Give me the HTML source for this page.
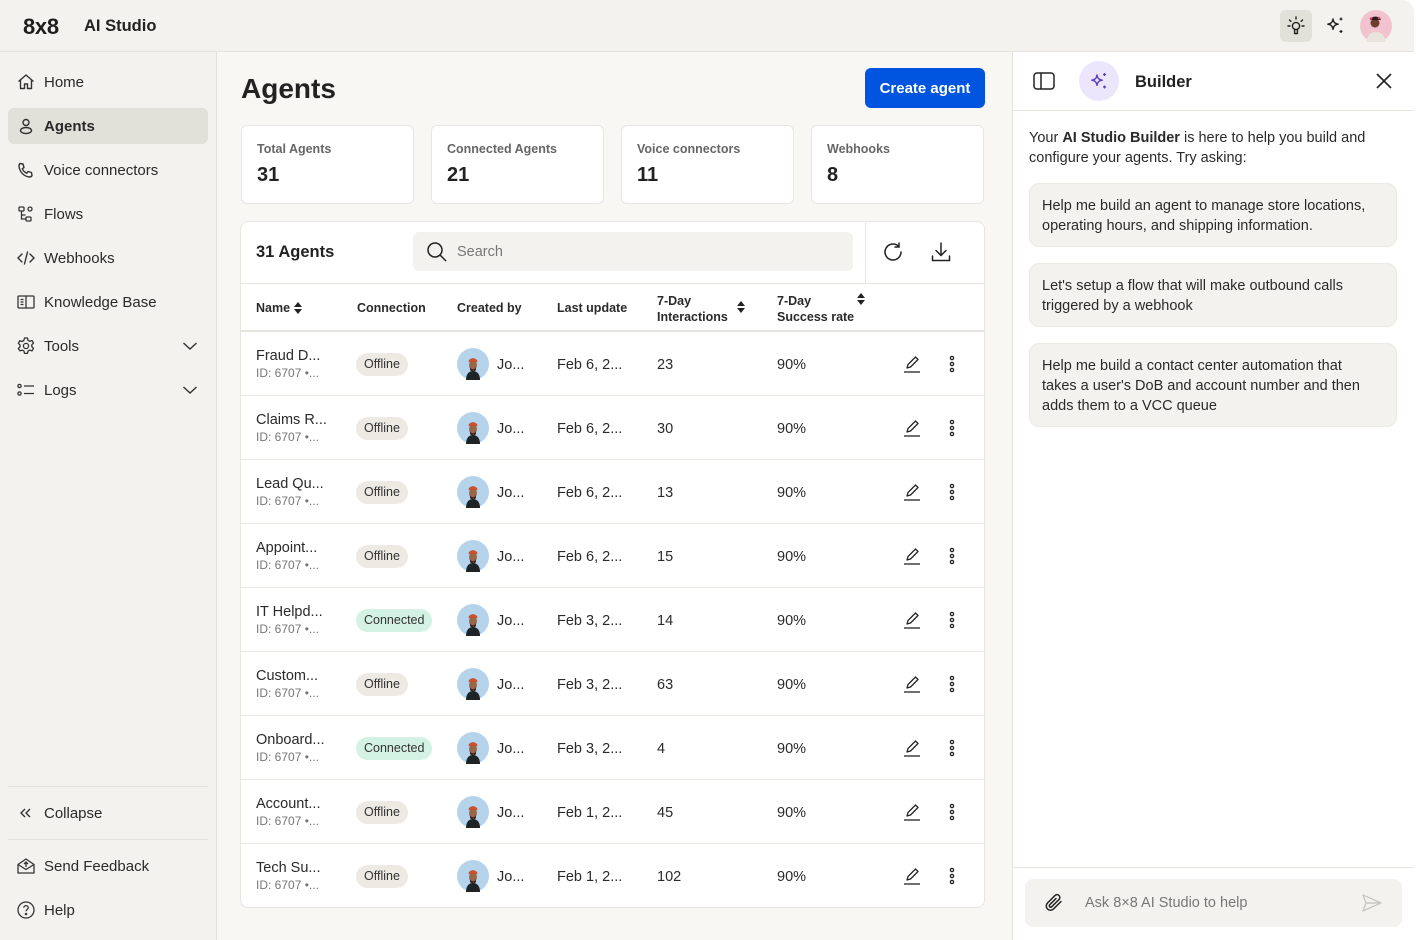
<!DOCTYPE html>
<html><head><meta charset="utf-8">
<style>
*{box-sizing:border-box;margin:0;padding:0}
body{width:1416px;height:940px;background:#fff;font-family:"Liberation Sans",Arial,sans-serif;color:#222;overflow:hidden;position:relative}
.app{position:absolute;left:0;top:0;width:1414px;height:940px;background:#f3f2ee;border-radius:0 12px 12px 0;overflow:hidden}
.abs{position:absolute}
.top{position:absolute;left:0;top:0;width:1414px;height:52px;border-bottom:1px solid #e4e2dc}
.side{position:absolute;left:0;top:52px;width:217px;height:888px;border-right:1px solid #e4e2dc}
.nav{position:absolute;left:8px;width:200px;height:36px;border-radius:6px;font-size:15px;color:#2a2a2a}
.nav .ic{position:absolute;left:8px;top:8px;width:20px;height:20px}
.nav .t{position:absolute;left:36px;top:1px;line-height:36px}
.nav.act{background:#e1e0d9;font-weight:600}
.main{position:absolute;left:217px;top:52px;width:795px;height:888px;background:#f8f7f4}
.card{position:absolute;top:73px;width:173px;height:79px;background:#fff;border:1px solid #e8e6e0;border-radius:6px}
.card .l{position:absolute;left:15px;top:16px;font-size:12.5px;color:#666;font-weight:600}
.card .v{position:absolute;left:15px;top:38px;font-size:20px;font-weight:700;color:#222}
.tbl{position:absolute;left:23px;top:169px;width:745px;height:687px;background:#fff;border:1px solid #e8e6e0;border-radius:8px;overflow:hidden}
.hd{position:absolute;top:61px;left:0;width:745px;height:49px;border-top:1px solid #e8e6e0;border-bottom:2px solid #e6e4dc;font-size:12.5px;font-weight:600;color:#2a2a2a}
.hd span{position:absolute}
.row{position:absolute;left:0;width:745px;height:64px;border-bottom:1px solid #ebe9e3;font-size:14.5px;color:#2a2a2a}
.row .n{position:absolute;left:15px;top:15px;line-height:18px}
.row .id{position:absolute;left:15px;top:33px;font-size:12px;color:#777;line-height:16px}
.badge{position:absolute;left:115px;top:21px;height:23px;line-height:23px;padding:0 8px;border-radius:12px;font-size:12.5px;color:#333;background:#eceae3}
.badge.c{background:#d4f2e3}
.av{position:absolute;left:216px;top:16px;width:32px;height:32px}
.row .by{position:absolute;left:256px;top:25px}
.row .dt{position:absolute;left:316px;top:25px}
.row .it{position:absolute;left:416px;top:25px}
.row .sr{position:absolute;left:536px;top:25px}
.row .ed{position:absolute;left:661px;top:22px;width:20px;height:20px}
.row .mo{position:absolute;left:701px;top:22px;width:20px;height:20px}
.bp{position:absolute;left:1012px;top:52px;width:402px;height:888px;background:#fff;border-left:1px solid #e4e2dc}
.sug{position:absolute;left:16px;width:368px;background:#f3f2ee;border:1px solid #ebe9e3;border-radius:10px;padding:12px 22px 11px 12px;font-size:14.5px;line-height:20px;color:#2a2a2a}
</style></head><body>
<div class="app">
<div class="top">
  <div class="abs" style="left:23px;top:14px;font-size:22px;font-weight:700;letter-spacing:-0.3px;color:#1e1e1e">8x8</div>
  <div class="abs" style="left:84px;top:17px;font-size:16.5px;font-weight:600;color:#222">AI Studio</div>
  <div class="abs" style="left:1280px;top:10px;width:32px;height:32px;background:#e1e0d9;border-radius:6px">
    <svg width="32" height="32" viewBox="0 0 32 32" fill="none" stroke="#222" stroke-width="1.4" stroke-linecap="round"><path d="M16 7v2M9.5 10l1.4 1.4M22.5 10l-1.4 1.4M8 16h2M22 16h2"/><circle cx="16" cy="16" r="3.6"/><path d="M14.6 19.5v4h2.8v-4"/></svg>
  </div>
  <svg class="abs" style="left:1324px;top:15px" width="22" height="22" viewBox="0 0 22 22" fill="none" stroke="#222" stroke-width="1.4" stroke-linejoin="round"><path d="M9 4c.6 3.4 1.8 4.6 5.2 5.2-3.4.6-4.6 1.8-5.2 5.2-.6-3.4-1.8-4.6-5.2-5.2C7.2 8.6 8.4 7.4 9 4z"/><path d="M17 2.5v3M15.5 4h3M17 15v3M15.5 16.5h3" stroke-width="1.2"/></svg>
  <svg class="abs" style="left:1360px;top:10px" width="32" height="32" viewBox="0 0 32 32"><circle cx="16" cy="16" r="16" fill="#f2c3cf"/><path d="M6 32c1-7 5-10 10-10s9 3 10 10z" fill="#e9e4dc"/><circle cx="15" cy="13" r="4.5" fill="#6b3f2a"/><path d="M10 10c1-4 9-5 11 0" fill="#2a1a18"/><circle cx="11" cy="8.5" r="1.3" fill="#d4477a"/><circle cx="19" cy="8" r="1.3" fill="#d4477a"/></svg>
</div>

<div class="side">
  <div class="nav" style="top:12px"><svg class="ic" viewBox="0 0 20 20" fill="none" stroke="#333" stroke-width="1.4" stroke-linejoin="round"><path d="M2.5 9.5L10 3l7.5 6.5M4.5 8v8.5h4v-4.5h3v4.5h4V8"/></svg><span class="t">Home</span></div>
  <div class="nav act" style="top:56px"><svg class="ic" viewBox="0 0 20 20" fill="none" stroke="#333" stroke-width="1.4"><circle cx="10" cy="6.5" r="3"/><ellipse cx="10" cy="14.5" rx="5.5" ry="3"/></svg><span class="t">Agents</span></div>
  <div class="nav" style="top:100px"><svg class="ic" viewBox="0 0 20 20" fill="none" stroke="#333" stroke-width="1.4" stroke-linejoin="round"><path d="M4 3.5l3 .5 1 3.5-1.8 1.3c1 2 2.5 3.5 4.5 4.5L12 11.5l3.5 1 .5 3c-.5 1-1.5 1.5-2.5 1.5C8 16.5 3.5 12 3 6c0-1 .3-2 1-2.5z"/></svg><span class="t">Voice connectors</span></div>
  <div class="nav" style="top:144px"><svg class="ic" viewBox="0 0 20 20" fill="none" stroke="#333" stroke-width="1.3"><rect x="3" y="3" width="5" height="4" rx="1"/><circle cx="14" cy="5" r="2"/><path d="M5.5 7v8h4M5.5 11h4"/><rect x="10" y="13" width="5" height="4" rx="1"/></svg><span class="t">Flows</span></div>
  <div class="nav" style="top:188px"><svg class="ic" viewBox="0 0 20 20" fill="none" stroke="#333" stroke-width="1.4" stroke-linecap="round"><path d="M6 6l-4 4 4 4M14 6l4 4-4 4M11.5 4l-3 12"/></svg><span class="t">Webhooks</span></div>
  <div class="nav" style="top:232px"><svg class="ic" viewBox="0 0 20 20" fill="none" stroke="#333" stroke-width="1.3"><rect x="2" y="4" width="16" height="12" rx="1"/><path d="M10 4v12M4.5 7.5h3M4.5 10h3M4.5 12.5h3"/></svg><span class="t">Knowledge Base</span></div>
  <div class="nav" style="top:276px"><svg class="ic" viewBox="0 0 20 20" fill="none" stroke="#333" stroke-width="1.3" stroke-linejoin="round"><path d="M8.5 2h3l.5 2.3 1.8 1 2.2-.8 1.5 2.6-1.7 1.6v2l1.7 1.6-1.5 2.6-2.2-.8-1.8 1-.5 2.3h-3l-.5-2.3-1.8-1-2.2.8L2.3 12.5 4 10.9v-2L2.3 7.3 3.8 4.7l2.2.8 1.8-1z"/><circle cx="10" cy="10" r="2.6"/></svg><span class="t">Tools</span>
    <svg class="abs" style="left:174px;top:12px" width="16" height="12" viewBox="0 0 16 12" fill="none" stroke="#333" stroke-width="1.4"><path d="M1.5 3l6.5 6 6.5-6"/></svg></div>
  <div class="nav" style="top:320px"><svg class="ic" viewBox="0 0 20 20" fill="none" stroke="#333" stroke-width="1.3"><circle cx="3.5" cy="6" r="1.6"/><circle cx="3.5" cy="13.5" r="1.6"/><path d="M8 6h10M8 13.5h10"/></svg><span class="t">Logs</span>
    <svg class="abs" style="left:174px;top:12px" width="16" height="12" viewBox="0 0 16 12" fill="none" stroke="#333" stroke-width="1.4"><path d="M1.5 3l6.5 6 6.5-6"/></svg></div>
  <div class="abs" style="left:8px;top:734px;width:200px;height:1px;background:#e4e2dc"></div>
  <div class="nav" style="top:743px"><svg class="ic" viewBox="0 0 20 20" fill="none" stroke="#333" stroke-width="1.4"><path d="M9 6l-4 4 4 4M14 6l-4 4 4 4"/></svg><span class="t">Collapse</span></div>
  <div class="abs" style="left:8px;top:787px;width:200px;height:1px;background:#e4e2dc"></div>
  <div class="nav" style="top:796px"><svg class="ic" viewBox="0 0 20 20" fill="none" stroke="#333" stroke-width="1.3" stroke-linejoin="round"><path d="M2 8.5L10 3l8 5.5V17H2z"/><path d="M2 8.5l8 5 8-5"/><path d="M10 11V6M8 8l2-2 2 2"/></svg><span class="t">Send Feedback</span></div>
  <div class="nav" style="top:840px"><svg class="ic" viewBox="0 0 20 20" fill="none" stroke="#333" stroke-width="1.3"><circle cx="10" cy="10" r="8"/><path d="M7.8 7.8c0-1.3 1-2.2 2.2-2.2s2.2.9 2.2 2.1c0 1.8-2.2 1.8-2.2 3.6"/><circle cx="10" cy="14" r=".6" fill="#333"/></svg><span class="t">Help</span></div>
</div>

<div class="main">
  <div class="abs" style="left:24px;top:21px;font-size:28px;font-weight:600;color:#222">Agents</div>
  <div class="abs" style="left:648px;top:16px;width:120px;height:40px;background:#0055e0;border-radius:6px;color:#fff;font-size:15px;font-weight:600;text-align:center;line-height:41px">Create agent</div>
  <div class="card" style="left:24px"><div class="l">Total Agents</div><div class="v">31</div></div>
  <div class="card" style="left:214px"><div class="l">Connected Agents</div><div class="v">21</div></div>
  <div class="card" style="left:404px"><div class="l">Voice connectors</div><div class="v">11</div></div>
  <div class="card" style="left:594px"><div class="l">Webhooks</div><div class="v">8</div></div>

  <div class="tbl">
    <div class="abs" style="left:15px;top:21px;font-size:16.5px;font-weight:600;color:#222">31 Agents</div>
    <div class="abs" style="left:172px;top:10px;width:440px;height:39px;background:#f3f2ee;border-radius:6px">
      <svg class="abs" style="left:12px;top:8px" width="24" height="24" viewBox="0 0 24 24" fill="none" stroke="#222" stroke-width="1.5"><circle cx="10" cy="10" r="7"/><path d="M15 15l6 6"/></svg>
      <span class="abs" style="left:44px;top:12px;font-size:14.5px;color:#777">Search</span>
    </div>
    <div class="abs" style="left:624px;top:0;width:1px;height:61px;background:#e8e6e0"></div>
    <svg class="abs" style="left:640px;top:18px" width="24" height="24" viewBox="0 0 24 24" fill="none" stroke="#222" stroke-width="1.5" stroke-linecap="round"><path d="M20 12a8 8 0 1 1-2.5-5.8"/><path d="M18 3v4h-4" /></svg>
    <svg class="abs" style="left:688px;top:18px" width="24" height="24" viewBox="0 0 24 24" fill="none" stroke="#222" stroke-width="1.5" stroke-linecap="round"><path d="M12 3v12M7 10.5l5 5 5-5M3.5 16v4.5h17V16"/></svg>
    <div class="hd">
      <span style="left:15px;top:17px">Name</span>
      <svg class="abs" style="left:52px;top:17px" width="10" height="14" viewBox="0 0 10 14" fill="#222"><path d="M5 1l4 5H1zM5 13l4-5H1z"/></svg>
      <span style="left:116px;top:17px">Connection</span>
      <span style="left:216px;top:17px">Created by</span>
      <span style="left:316px;top:17px">Last update</span>
      <span style="left:416px;top:9px;line-height:16px">7-Day<br>Interactions</span>
      <svg class="abs" style="left:495px;top:16px" width="10" height="14" viewBox="0 0 10 14" fill="#222"><path d="M5 1l4 5H1zM5 13l4-5H1z"/></svg>
      <span style="left:536px;top:9px;line-height:16px">7-Day<br>Success rate</span>
      <svg class="abs" style="left:615px;top:8px" width="10" height="14" viewBox="0 0 10 14" fill="#222"><path d="M5 1l4 5H1zM5 13l4-5H1z"/></svg>
    </div>
    <svg width="0" height="0" style="position:absolute">
      <defs>
        <symbol id="av" viewBox="0 0 32 32"><circle cx="16" cy="16" r="16" fill="#b6d3ec"/><path d="M9 32c0-6 3-9 7-9s7 3 7 9z" fill="#1d2326"/><ellipse cx="16" cy="17" rx="4" ry="5" fill="#9a6848"/><path d="M11.5 14c0-5 9-5 9 0z" fill="#c9502b"/><path d="M13 19c1 3 5 3 6 0v3c-1 2-5 2-6 0z" fill="#3a2a22"/></symbol>
        <symbol id="ed" viewBox="0 0 20 20"><g fill="none" stroke="#222" stroke-width="1.3" stroke-linejoin="round"><path d="M5 14l1-3.5 7.5-7.5 2.5 2.5-7.5 7.5z"/><path d="M2 18h16"/></g></symbol>
        <symbol id="mo" viewBox="0 0 20 20"><g fill="none" stroke="#222" stroke-width="1.3"><circle cx="10" cy="4" r="1.6"/><circle cx="10" cy="10" r="1.6"/><circle cx="10" cy="16" r="1.6"/></g></symbol>
      </defs>
    </svg>
    <div class="row" style="top:110px"><div class="n">Fraud D...</div><div class="id">ID: 6707 •...</div><div class="badge">Offline</div><svg class="av"><use href="#av"/></svg><div class="by">Jo...</div><div class="dt">Feb 6, 2...</div><div class="it">23</div><div class="sr">90%</div><svg class="ed"><use href="#ed"/></svg><svg class="mo"><use href="#mo"/></svg></div>
    <div class="row" style="top:174px"><div class="n">Claims R...</div><div class="id">ID: 6707 •...</div><div class="badge">Offline</div><svg class="av"><use href="#av"/></svg><div class="by">Jo...</div><div class="dt">Feb 6, 2...</div><div class="it">30</div><div class="sr">90%</div><svg class="ed"><use href="#ed"/></svg><svg class="mo"><use href="#mo"/></svg></div>
    <div class="row" style="top:238px"><div class="n">Lead Qu...</div><div class="id">ID: 6707 •...</div><div class="badge">Offline</div><svg class="av"><use href="#av"/></svg><div class="by">Jo...</div><div class="dt">Feb 6, 2...</div><div class="it">13</div><div class="sr">90%</div><svg class="ed"><use href="#ed"/></svg><svg class="mo"><use href="#mo"/></svg></div>
    <div class="row" style="top:302px"><div class="n">Appoint...</div><div class="id">ID: 6707 •...</div><div class="badge">Offline</div><svg class="av"><use href="#av"/></svg><div class="by">Jo...</div><div class="dt">Feb 6, 2...</div><div class="it">15</div><div class="sr">90%</div><svg class="ed"><use href="#ed"/></svg><svg class="mo"><use href="#mo"/></svg></div>
    <div class="row" style="top:366px"><div class="n">IT Helpd...</div><div class="id">ID: 6707 •...</div><div class="badge c">Connected</div><svg class="av"><use href="#av"/></svg><div class="by">Jo...</div><div class="dt">Feb 3, 2...</div><div class="it">14</div><div class="sr">90%</div><svg class="ed"><use href="#ed"/></svg><svg class="mo"><use href="#mo"/></svg></div>
    <div class="row" style="top:430px"><div class="n">Custom...</div><div class="id">ID: 6707 •...</div><div class="badge">Offline</div><svg class="av"><use href="#av"/></svg><div class="by">Jo...</div><div class="dt">Feb 3, 2...</div><div class="it">63</div><div class="sr">90%</div><svg class="ed"><use href="#ed"/></svg><svg class="mo"><use href="#mo"/></svg></div>
    <div class="row" style="top:494px"><div class="n">Onboard...</div><div class="id">ID: 6707 •...</div><div class="badge c">Connected</div><svg class="av"><use href="#av"/></svg><div class="by">Jo...</div><div class="dt">Feb 3, 2...</div><div class="it">4</div><div class="sr">90%</div><svg class="ed"><use href="#ed"/></svg><svg class="mo"><use href="#mo"/></svg></div>
    <div class="row" style="top:558px"><div class="n">Account...</div><div class="id">ID: 6707 •...</div><div class="badge">Offline</div><svg class="av"><use href="#av"/></svg><div class="by">Jo...</div><div class="dt">Feb 1, 2...</div><div class="it">45</div><div class="sr">90%</div><svg class="ed"><use href="#ed"/></svg><svg class="mo"><use href="#mo"/></svg></div>
    <div class="row" style="top:622px;border-bottom:none"><div class="n">Tech Su...</div><div class="id">ID: 6707 •...</div><div class="badge">Offline</div><svg class="av"><use href="#av"/></svg><div class="by">Jo...</div><div class="dt">Feb 1, 2...</div><div class="it">102</div><div class="sr">90%</div><svg class="ed"><use href="#ed"/></svg><svg class="mo"><use href="#mo"/></svg></div>
  </div>
</div>

<div class="bp">
  <svg class="abs" style="left:20px;top:19px" width="22" height="20" viewBox="0 0 22 20" fill="none" stroke="#222" stroke-width="1.5"><rect x="1" y="2" width="20" height="16" rx="3"/><path d="M8 2v16"/></svg>
  <div class="abs" style="left:66px;top:9px;width:40px;height:40px;border-radius:20px;background:#ebe6fc">
    <svg class="abs" style="left:9px;top:9px" width="22" height="22" viewBox="0 0 22 22" fill="none" stroke="#5a3fc6" stroke-width="1.4" stroke-linejoin="round"><path d="M9 5c.6 3.4 1.8 4.6 5.2 5.2-3.4.6-4.6 1.8-5.2 5.2-.6-3.4-1.8-4.6-5.2-5.2C7.2 9.6 8.4 8.4 9 5z"/><path d="M16.5 3v3M15 4.5h3M16.5 15.5v3M15 17h3" stroke-width="1.2"/></svg>
  </div>
  <div class="abs" style="left:122px;top:21px;font-size:16.5px;font-weight:600;color:#222">Builder</div>
  <svg class="abs" style="left:362px;top:20px" width="18" height="18" viewBox="0 0 18 18" fill="none" stroke="#222" stroke-width="1.6"><path d="M2 2l14 14M16 2L2 16"/></svg>
  <div class="abs" style="left:0;top:58px;width:401px;height:1px;background:#e8e6e0"></div>
  <div class="abs" style="left:16px;top:76px;font-size:14.5px;line-height:20px;color:#2a2a2a;width:370px">Your <b>AI Studio Builder</b> is here to help you build and configure your agents. Try asking:</div>
  <div class="sug" style="top:131px;height:64px">Help me build an agent to manage store locations, operating hours, and shipping information.</div>
  <div class="sug" style="top:211px;height:64px">Let's setup a flow that will make outbound calls triggered by a webhook</div>
  <div class="sug" style="top:291px;height:84px">Help me build a contact center automation that takes a user's DoB and account number and then adds them to a VCC queue</div>
  <div class="abs" style="left:0;top:815px;width:401px;height:1px;background:#e8e6e0"></div>
  <div class="abs" style="left:12px;top:827px;width:377px;height:48px;background:#f3f2ee;border-radius:8px">
    <svg class="abs" style="left:18px;top:13px" width="22" height="22" viewBox="0 0 22 22" fill="none" stroke="#222" stroke-width="1.5" stroke-linecap="round"><path d="M18 9.5l-7.5 7.5a4.2 4.2 0 0 1-6-6L12 3.5a2.8 2.8 0 0 1 4 4l-7.3 7.3a1.4 1.4 0 0 1-2-2L13 6.5"/></svg>
    <span class="abs" style="left:60px;top:16px;font-size:14.5px;color:#777">Ask 8×8 AI Studio to help</span>
    <svg class="abs" style="left:336px;top:14px" width="22" height="20" viewBox="0 0 22 20" fill="none" stroke="#c9c7c0" stroke-width="1.4" stroke-linejoin="round"><path d="M2 2l18 8-18 8 3-8z M5 10h15"/></svg>
  </div>
</div>
</div>
</body></html>
